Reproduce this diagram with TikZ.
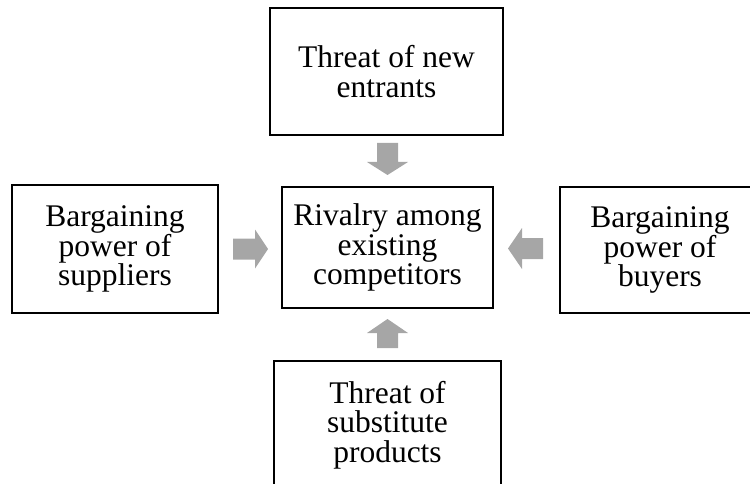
\documentclass[tikz,border=0pt]{standalone}
\usepackage{fontspec}
\setmainfont{Liberation Serif}
\begin{document}
\begin{tikzpicture}[x=1pt,y=-1pt,
  forcebox/.style={draw=black,line width=2.6pt,fill=white,align=center,inner sep=0pt,
    font=\fontsize{31.5}{29.5}\selectfont},
  blockarrow/.style={fill=arrowgray,draw=none}]
\definecolor{arrowgray}{HTML}{A6A6A6}
\useasboundingbox (0,0) rectangle (750,484);
\node[forcebox,minimum width=233pt,minimum height=127pt] (top) at (386.5,71.5) {Threat of new\\entrants};
\node[forcebox,minimum width=211pt,minimum height=121pt] (mid) at (387.5,247.5) {Rivalry among\\existing\\competitors};
\node[forcebox,minimum width=206pt,minimum height=128pt] (left) at (115,249) {Bargaining\\power of\\suppliers};
\node[forcebox,minimum width=200pt,minimum height=126pt] (right) at (660,250) {Bargaining\\power of\\buyers};
\node[forcebox,minimum width=227pt,minimum height=128pt] (bottom) at (387.5,425) {Threat of\\substitute\\products};
% block arrows
\coordinate (ad) at (387.5,143);
\fill[blockarrow] (ad) ++(-10.5,0) -- ++(21,0) -- ++(0,19) -- ++(10,0) -- ++(-20.5,13) -- ++(-20.5,-13) -- ++(10,0) -- cycle;
\coordinate (au) at (387.5,348);
\fill[blockarrow] (au) ++(-10.5,0) -- ++(21,0) -- ++(0,-15) -- ++(10,0) -- ++(-20.5,-14) -- ++(-20.5,14) -- ++(10,0) -- cycle;
\coordinate (ar) at (233,249);
\fill[blockarrow] (ar) ++(0,-10.5) -- ++(0,21) -- ++(22,0) -- ++(0,9) -- ++(13,-19.5) -- ++(-13,-19.5) -- ++(0,9) -- cycle;
\coordinate (al) at (543,248.5);
\fill[blockarrow] (al) ++(0,-10.5) -- ++(0,21) -- ++(-21,0) -- ++(0,10) -- ++(-14,-20.5) -- ++(14,-20.5) -- ++(0,10) -- cycle;
\end{tikzpicture}
\end{document}
